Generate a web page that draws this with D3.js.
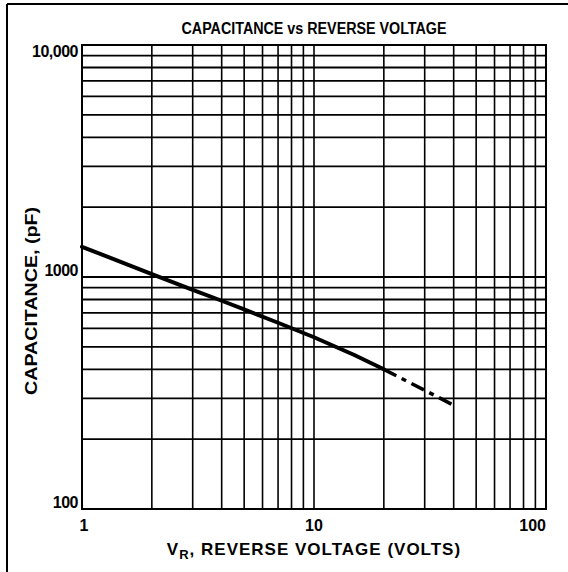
<!DOCTYPE html>
<html>
<head>
<script src="https://d3js.org/d3.v7.min.js"></script>
<style>
  body { margin: 0; background: #fff; }
  text { font-family: "Liberation Sans", Arial, sans-serif; font-weight: bold; fill: #000; }
</style>
</head>
<body>
<script>
// curve
var voltsSolid = [1, 2, 3, 4, 5, 7, 10, 15, 20];
var capSolid   = [1350, 1030, 880, 790, 725, 635, 550, 460, 400];
var voltsDashed = [20, 30, 40];
var capDashed   = [400, 325, 280];

var xTicks = [1, 10, 100];
var xTickLabels = ["1", "10", "100"];
var yTicks = [100, 1000, 10000];
var yTickLabels = ["100", "1000", "10,000"];

var W = 568, H = 572;
var plotL = 82, plotR = 546, plotT = 45, plotB = 509;

var svg = d3.select("body").append("svg")
    .attr("width", W)
    .attr("height", H);

var x = d3.scaleLog().domain([1, 100]).range([plotL, plotR]);
var y = d3.scaleLog().domain([100, 10000]).range([plotB, plotT]);

// scan border (top and left only)
svg.append("line").attr("x1", 7).attr("x2", W).attr("y1", 4).attr("y2", 4)
    .attr("stroke", "#000").attr("stroke-width", 2);
svg.append("line").attr("x1", 7).attr("x2", 7).attr("y1", 4).attr("y2", H)
    .attr("stroke", "#000").attr("stroke-width", 2);

// grid
svg.append("g").selectAll("line")
    .data(x.ticks())
    .enter().append("line")
    .attr("x1", function(d) { return x(d); })
    .attr("x2", function(d) { return x(d); })
    .attr("y1", plotT).attr("y2", plotB)
    .attr("stroke", "#000").attr("stroke-width", 1.6);

svg.append("g").selectAll("line")
    .data(y.ticks())
    .enter().append("line")
    .attr("y1", function(d) { return y(d); })
    .attr("y2", function(d) { return y(d); })
    .attr("x1", plotL).attr("x2", plotR)
    .attr("stroke", "#000").attr("stroke-width", 1.8);

svg.append("rect")
    .attr("x", plotL).attr("y", plotT)
    .attr("width", plotR - plotL).attr("height", plotB - plotT)
    .attr("fill", "none").attr("stroke", "#000").attr("stroke-width", 2);

// curve
var line = d3.line()
    .x(function(d) { return x(d[0]); })
    .y(function(d) { return y(d[1]); });

svg.append("path")
    .datum(d3.zip(voltsSolid, capSolid))
    .attr("d", line)
    .attr("fill", "none").attr("stroke", "#000").attr("stroke-width", 4)
    .attr("stroke-linecap", "round");

svg.append("path")
    .datum(d3.zip(voltsDashed, capDashed))
    .attr("d", line)
    .attr("fill", "none").attr("stroke", "#000").attr("stroke-width", 3.5)
    .attr("stroke-dasharray", "14,6,5,6");

// tick labels
svg.selectAll(".xl")
    .data(xTicks)
    .enter().append("text")
    .attr("x", function(d, i) { return i == xTicks.length - 1 ? x(d) : x(d) + (i == 0 ? 2 : 0); })
    .attr("y", 531)
    .attr("text-anchor", function(d, i) { return i == xTicks.length - 1 ? "end" : "middle"; })
    .attr("font-size", 16)
    .text(function(d, i) { return xTickLabels[i]; });

svg.selectAll(".yl")
    .data(yTicks)
    .enter().append("text")
    .attr("x", plotL - 4)
    .attr("y", function(d) { return Math.max(y(d) - 1, plotT + 12); })
    .attr("text-anchor", "end")
    .attr("font-size", 16)
    .attr("letter-spacing", -0.5)
    .text(function(d, i) { return yTickLabels[i]; });

// titles
svg.append("text")
    .attr("x", (plotL + plotR) / 2).attr("y", 34)
    .attr("text-anchor", "middle")
    .attr("font-size", 16)
    .attr("textLength", 265).attr("lengthAdjust", "spacingAndGlyphs")
    .text("CAPACITANCE vs REVERSE VOLTAGE");

var xl = svg.append("text")
    .attr("x", (plotL + plotR) / 2).attr("y", 555)
    .attr("text-anchor", "middle")
    .attr("font-size", 17)
    .attr("letter-spacing", 1);
xl.append("tspan").text("V");
xl.append("tspan").attr("dy", 4).attr("font-size", 13).text("R");
xl.append("tspan").attr("dy", -4).text(", REVERSE VOLTAGE (VOLTS)");

svg.append("text")
    .attr("transform", "translate(37," + ((plotT + plotB) / 2 + 24) + ") rotate(-90)")
    .attr("text-anchor", "middle")
    .attr("font-size", 16)
    .attr("textLength", 188).attr("lengthAdjust", "spacingAndGlyphs")
    .text("CAPACITANCE, (pF)");
</script>
</body>
</html>
